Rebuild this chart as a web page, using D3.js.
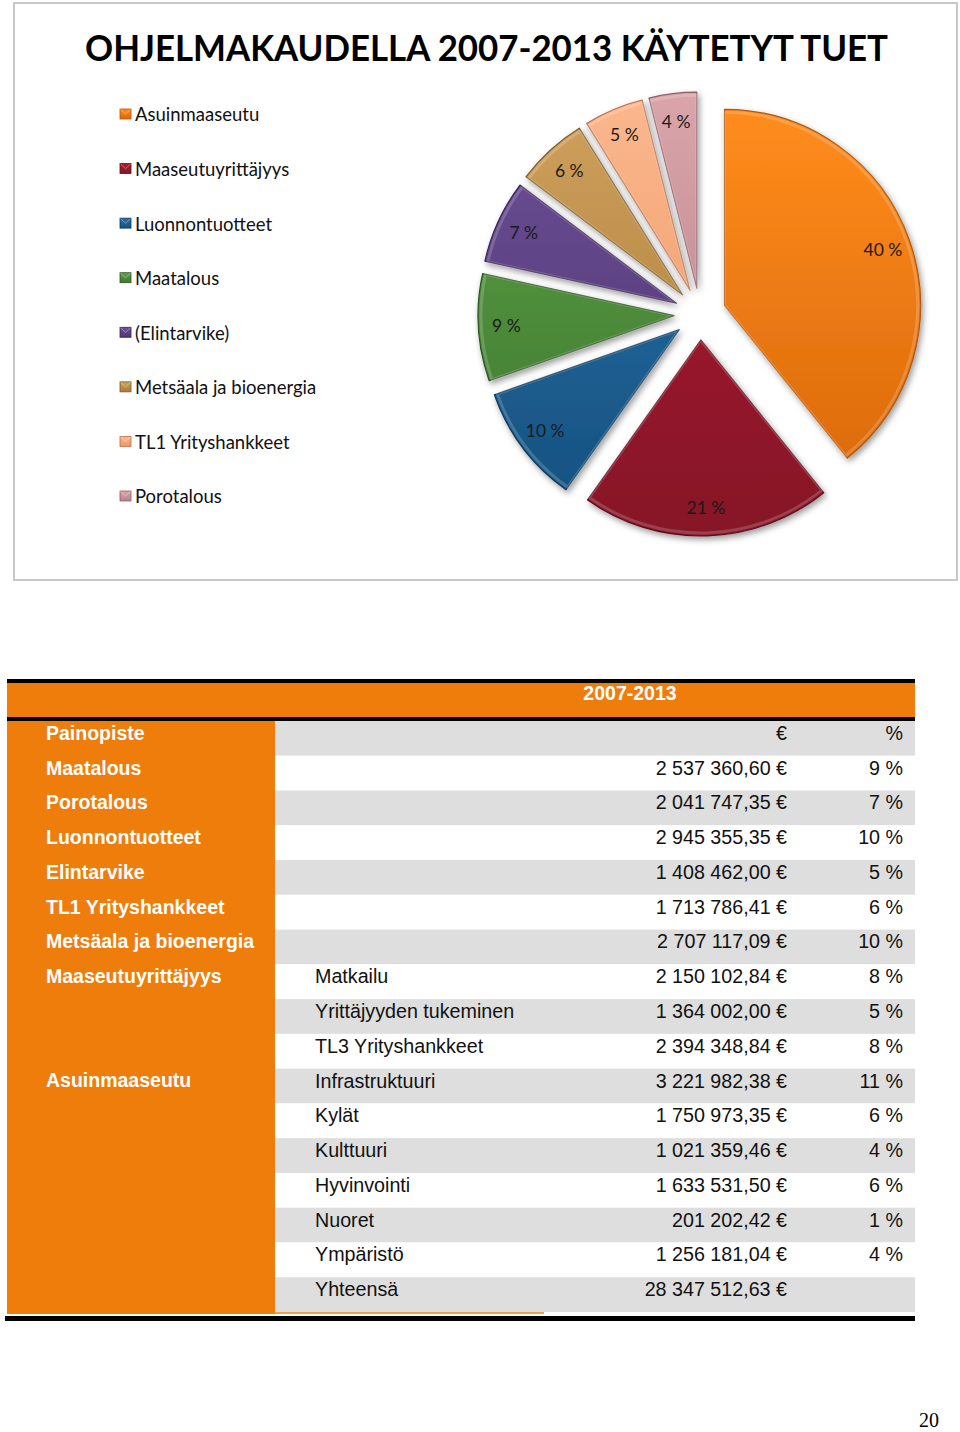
<!DOCTYPE html>
<html>
<head>
<meta charset="utf-8">
<script src="https://cdn.jsdelivr.net/npm/d3@7"></script>
<style>
  body { margin: 0; background: #fff; }
  svg { display: block; }
</style>
</head>
<body>
<div id="chart"></div>
<script>
// pie data (as labelled in the chart)
const pieNames = ["Asuinmaaseutu", "Maaseutuyrittäjyys", "Luonnontuotteet", "Maatalous",
  "(Elintarvike)", "Metsäala ja bioenergia", "TL1 Yrityshankkeet", "Porotalous"];
const piePct = [40, 21, 10, 9, 7, 6, 5, 4];
const pieColors = [
  ["#ff8c1c", "#d9680a", "#b45708"],
  ["#a81d31", "#861627", "#5f0f1b"],
  ["#2470a8", "#16507e", "#0f3a5c"],
  ["#5c9f43", "#3e7731", "#2c5622"],
  ["#6d4e96", "#4e3672", "#372551"],
  ["#cfa15d", "#a87b38", "#7d5a25"],
  ["#fbb78d", "#ec9764", "#b8704a"],
  ["#d9a4aa", "#ba818a", "#8e5f67"]
];

// table data
const groupCol = ["Painopiste", "Maatalous", "Porotalous", "Luonnontuotteet", "Elintarvike",
  "TL1 Yrityshankkeet", "Metsäala ja bioenergia", "Maaseutuyrittäjyys", "", "",
  "Asuinmaaseutu", "", "", "", "", "", ""];
const subCol = ["", "", "", "", "", "", "", "Matkailu", "Yrittäjyyden tukeminen",
  "TL3 Yrityshankkeet", "Infrastruktuuri", "Kylät", "Kulttuuri", "Hyvinvointi",
  "Nuoret", "Ympäristö", "Yhteensä"];
const euroCol = [null, 2537360.60, 2041747.35, 2945355.35, 1408462.00, 1713786.41,
  2707117.09, 2150102.84, 1364002.00, 2394348.84, 3221982.38, 1750973.35,
  1021359.46, 1633531.50, 201202.42, 1256181.04, 28347512.63];
const pctCol = [null, 9, 7, 10, 5, 6, 10, 8, 5, 8, 11, 6, 4, 6, 1, 4, null];
const periodLabel = "2007-2013";
const titleText = "OHJELMAKAUDELLA 2007-2013 KÄYTETYT TUET";

const width = 960, height = 1432;
const svg = d3.select("#chart").append("svg")
  .attr("width", width).attr("height", height);
const defs = svg.append("defs");

const fi = d3.formatLocale({ decimal: ",", thousands: "\u00a0", grouping: [3], currency: ["", "\u00a0€"] });
const fmtEuro = fi.format("$,.2f");

// ---------- chart frame ----------
svg.append("rect")
  .attr("x", 14).attr("y", 3).attr("width", 943).attr("height", 577)
  .attr("fill", "#fff").attr("stroke", "#c8c8c8").attr("stroke-width", 2);

svg.append("text")
  .attr("x", 85).attr("y", 61)
  .attr("textLength", 803).attr("lengthAdjust", "spacingAndGlyphs")
  .attr("font-family", "Lato, 'Open Sans', sans-serif")
  .attr("font-weight", "bold").attr("font-size", 36).attr("fill", "#000")
  .text(titleText);

// ---------- legend ----------
const legendY = d3.scalePoint().domain(pieNames).range([115, 497]);
const legend = svg.append("g");
pieNames.forEach((name, i) => {
  const g = legend.append("g").attr("transform", `translate(120,${legendY(name)})`);
  const gid = "lg" + i;
  const lg = defs.append("linearGradient").attr("id", gid)
    .attr("x1", 0).attr("y1", 0).attr("x2", 0).attr("y2", 1);
  lg.append("stop").attr("offset", "0%").attr("stop-color", pieColors[i][0]);
  lg.append("stop").attr("offset", "100%").attr("stop-color", pieColors[i][1]);
  g.append("rect").attr("x", 0).attr("y", -6).attr("width", 11).attr("height", 10)
    .attr("fill", `url(#${gid})`).attr("stroke", pieColors[i][2]).attr("stroke-width", 0.8);
  g.append("path").attr("d", "M0.5,-5.5 L5.5,-1 L10.5,-5.5")
    .attr("fill", "none").attr("stroke", "#fff").attr("stroke-opacity", 0.35).attr("stroke-width", 1);
  g.append("text").attr("x", 15).attr("y", 0).attr("dy", "0.35em")
    .attr("font-family", "Lato, 'Open Sans', sans-serif").attr("font-size", 18.5)
    .attr("fill", "#111").text(name);
});

// ---------- pie ----------
const cx = 700, cy = 314, R = 196, explode = 26;
const shadow = defs.append("filter").attr("id", "shadow")
  .attr("x", "-20%").attr("y", "-20%").attr("width", "140%").attr("height", "140%");
shadow.append("feDropShadow").attr("dx", 2).attr("dy", 3).attr("stdDeviation", 3)
  .attr("flood-color", "#000").attr("flood-opacity", 0.4);

const pie = d3.pie().sort(null).value(d => d);
const arcs = pie(piePct);
const arc = d3.arc().innerRadius(0).outerRadius(R);
const labelArc = d3.arc().innerRadius(168).outerRadius(168);

const pieG = svg.append("g").attr("transform", `translate(${cx},${cy})`);
arcs.forEach((a, i) => {
  const mid = (a.startAngle + a.endAngle) / 2;
  const dx = Math.sin(mid) * explode, dy = -Math.cos(mid) * explode;
  const gid = "pg" + i;
  const lg = defs.append("linearGradient").attr("id", gid)
    .attr("gradientUnits", "userSpaceOnUse")
    .attr("x1", 0).attr("y1", -R).attr("x2", 0).attr("y2", R);
  lg.append("stop").attr("offset", "0%").attr("stop-color", pieColors[i][0]);
  lg.append("stop").attr("offset", "100%").attr("stop-color", pieColors[i][1]);
  const g = pieG.append("g").attr("transform", `translate(${dx},${dy})`);
  g.append("path").attr("d", arc(a))
    .attr("fill", `url(#${gid})`).attr("filter", "url(#shadow)")
    .attr("stroke", pieColors[i][2]).attr("stroke-width", 1.2).attr("stroke-linejoin", "round");
  // soft bevel highlight
  g.append("path").attr("d", d3.arc().innerRadius(0).outerRadius(R - 3)(a))
    .attr("fill", "none").attr("stroke", "#fff").attr("stroke-opacity", 0.18).attr("stroke-width", 3);
  const c = labelArc.centroid(a);
  g.append("text").attr("x", c[0]).attr("y", c[1]).attr("dy", "0.35em")
    .attr("text-anchor", "middle")
    .attr("font-family", "Lato, 'Open Sans', sans-serif").attr("font-size", 17.5)
    .attr("fill", "#1a1a1a").text(piePct[i] + "\u00a0%");
});

// ---------- table ----------
const tLeft = 7, tRight = 915, colSplit = 275;
const rowY = d3.scaleBand().domain(d3.range(groupCol.length)).range([721, 1312]);
const tbl = svg.append("g").attr("font-family", "'Liberation Sans', Arial, sans-serif");

tbl.append("rect").attr("x", tLeft).attr("y", 679).attr("width", tRight - tLeft).attr("height", 4).attr("fill", "#000");
tbl.append("rect").attr("x", tLeft).attr("y", 683).attr("width", tRight - tLeft).attr("height", 34).attr("fill", "#ee7d0c");
tbl.append("rect").attr("x", tLeft).attr("y", 717).attr("width", tRight - tLeft).attr("height", 4).attr("fill", "#000");
tbl.append("text").attr("x", 630).attr("y", 693).attr("dy", "0.35em")
  .attr("text-anchor", "middle").attr("font-weight", "bold").attr("font-size", 19.5)
  .attr("fill", "#fff").text(periodLabel);

tbl.append("rect").attr("x", tLeft).attr("y", 721).attr("width", colSplit - tLeft).attr("height", 1312 - 721 + 2)
  .attr("fill", "#ee7d0c");

groupCol.forEach((g, i) => {
  const y = rowY(i);
  tbl.append("rect").attr("x", colSplit).attr("y", y).attr("width", tRight - colSplit).attr("height", rowY.bandwidth())
    .attr("fill", i % 2 === 0 ? "#dedede" : "#fff");
  const base = y + 12;
  if (g) tbl.append("text").attr("x", 46).attr("y", base).attr("dy", "0.35em")
    .attr("font-weight", "bold").attr("font-size", 19.5).attr("fill", "#fff").text(g);
  if (subCol[i]) tbl.append("text").attr("x", 315).attr("y", base).attr("dy", "0.35em")
    .attr("font-size", 19.7).attr("fill", "#111").text(subCol[i]);
  tbl.append("text").attr("x", 787).attr("y", base).attr("dy", "0.35em")
    .attr("text-anchor", "end").attr("font-size", 19.7).attr("fill", "#111")
    .text(euroCol[i] == null ? "€" : fmtEuro(euroCol[i]));
  if (i === 0 || pctCol[i] != null)
    tbl.append("text").attr("x", 903).attr("y", base).attr("dy", "0.35em")
      .attr("text-anchor", "end").attr("font-size", 19.7).attr("fill", "#111")
      .text(i === 0 ? "%" : pctCol[i] + "\u00a0%");
});

tbl.append("rect").attr("x", colSplit).attr("y", 1312).attr("width", 544 - colSplit).attr("height", 2).attr("fill", "#f0a050");
tbl.append("rect").attr("x", 5).attr("y", 1316).attr("width", tRight - 5).attr("height", 5).attr("fill", "#000");

// page number
svg.append("text").attr("x", 939).attr("y", 1420).attr("dy", "0.35em").attr("text-anchor", "end")
  .attr("font-family", "'Liberation Serif', 'Times New Roman', serif").attr("font-size", 20)
  .attr("fill", "#000").text("20");
</script>
</body>
</html>
